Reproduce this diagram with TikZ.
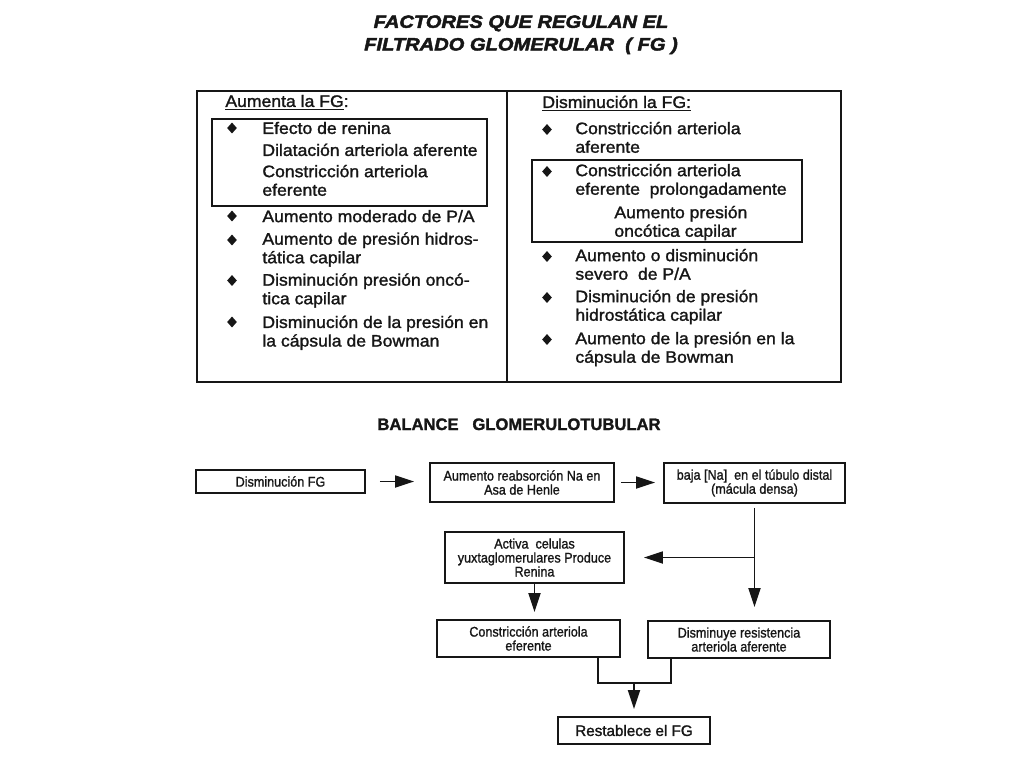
\documentclass[tikz,border=0pt]{standalone}
\usepackage{fontspec}
\usepackage{tikz}
\usetikzlibrary{arrows.meta,shapes.geometric}
\setmainfont{Liberation Sans}
\newfontfamily\tabfont[FakeStretch=1.06,FakeBold=1.5]{Liberation Sans}
\newfontfamily\headfont[FakeStretch=1.13,FakeBold=2.5]{Liberation Sans}
\newfontfamily\flowfont[FakeStretch=0.9,FakeBold=1.2]{Liberation Sans}
\newfontfamily\lastfont[FakeBold=1.5]{Liberation Sans}
\definecolor{Ink}{HTML}{161616}

\tikzset{
  tabline/.style={draw=Ink,line width=0.9pt},
  tabtext/.style={anchor=north west,inner sep=0pt,align=left,text=Ink,
    font=\tabfont\fontsize{8.3}{9.3}\selectfont,execute at begin node={\rule{0pt}{6.5pt}}},
  bullet/.style={diamond,fill=Ink,inner sep=0pt,minimum width=5pt,minimum height=5.6pt},
  flowbox/.style={draw=Ink,line width=0.9pt,inner sep=0pt,align=center,text=Ink,font=\flowfont\fontsize{7}{7}\selectfont},
  flowarrow/.style={draw=Ink,line width=0.9pt,-{Triangle[length=9.5pt,width=6pt]}}
}

\begin{document}
\begin{tikzpicture}[x=0.5pt,y=-0.5pt]
  \useasboundingbox (0,0) rectangle (1024,768);
  \fill[white] (0,0) rectangle (1024,768);

  % titles
  \node[anchor=north,inner sep=0pt,align=center,text=Ink,font=\headfont\bfseries\itshape\fontsize{8.9}{11.3}\selectfont] (titulo) at (521,15)
    {FACTORES QUE REGULAN EL\\FILTRADO GLOMERULAR\ \ ( FG )};
  \node[anchor=north,inner sep=0pt,text=Ink,font=\lastfont\bfseries\fontsize{8.3}{10}\selectfont] (balance) at (519,418)
    {BALANCE\ \ \ GLOMERULOTUBULAR};

  % table
  \draw[tabline] (197,91) rectangle (841,382);
  \draw[tabline] (507,91) -- (507,382);
  \draw[tabline] (212,119) rectangle (487,206);
  \draw[tabline] (532,160) rectangle (802,242);

  \node[tabtext] (aumHead) at (225,93.5) {\underline{Aumenta la FG}:};
  \node[bullet] (aumB1) at (232,128) {};
  \node[bullet] (aumB4) at (232,216) {};
  \node[bullet] (aumB5) at (232,240) {};
  \node[bullet] (aumB6) at (232,280.5) {};
  \node[bullet] (aumB7) at (232,322) {};
  \node[tabtext] (aum1) at (262,120.5) {Efecto de renina};
  \node[tabtext] (aum2) at (262,142.5) {Dilatación arteriola aferente};
  \node[tabtext] (aum3) at (262,164.5) {Constricción arteriola\\eferente};
  \node[tabtext] (aum4) at (262,208.7) {Aumento moderado de P/A};
  \node[tabtext] (aum5) at (262,232) {Aumento de presión hidros-\\tática capilar};
  \node[tabtext] (aum6) at (262,273) {Disminución presión oncó-\\tica capilar};
  \node[tabtext] (aum7) at (262,315.3) {Disminución de la presión en\\la cápsula de Bowman};

  \node[tabtext] (disHead) at (542,94.5) {\underline{Disminución la FG:}};
  \node[bullet] (disB1) at (547,129.5) {};
  \node[bullet] (disB2) at (547,171.5) {};
  \node[bullet] (disB3) at (547,256.5) {};
  \node[bullet] (disB4) at (547,297.5) {};
  \node[bullet] (disB5) at (547,339.5) {};
  \node[tabtext] (dis1) at (575,121.5) {Constricción arteriola\\aferente};
  \node[tabtext] (dis2) at (575,163.5) {Constricción arteriola\\eferente\ \ prolongadamente};
  \node[tabtext] (dis2b) at (614,205.5) {Aumento presión\\oncótica capilar};
  \node[tabtext] (dis3) at (575,248.5) {Aumento o disminución\\severo\ \ de P/A};
  \node[tabtext] (dis4) at (575,289.5) {Disminución de presión\\hidrostática capilar};
  \node[tabtext] (dis5) at (575,331.5) {Aumento de la presión en la\\cápsula de Bowman};

  % balance glomerulotubular
  \node[flowbox,minimum width=84.5pt,minimum height=11.5pt] (fgBaja) at (280.5,481.5) {Disminución FG};
  \node[flowbox,minimum width=92pt,minimum height=19.5pt] (reabs) at (522,482.5) {Aumento reabsorción Na en\\Asa de Henle};
  \node[flowbox,minimum width=90.5pt,minimum height=20pt] (sodio) at (754.5,483) {baja [Na]\ \ en el túbulo distal\\(mácula densa)};
  \node[flowbox,minimum width=89.5pt,minimum height=25.5pt] (renina) at (534.5,557.5) {Activa\ \ celulas\\yuxtaglomerulares Produce\\Renina};
  \node[flowbox,minimum width=91.5pt,minimum height=18.5pt] (eferente) at (528.5,638.5) {Constricción arteriola\\eferente};
  \node[flowbox,minimum width=91pt,minimum height=18.5pt] (aferente) at (739,639.5) {Disminuye resistencia\\arteriola aferente};
  \node[flowbox,minimum width=76pt,minimum height=13.5pt,font=\lastfont\fontsize{7.6}{9}\selectfont] (restab) at (634,730.5) {Restablece el FG};

  \draw[flowarrow,shorten <=7pt,shorten >=7.5pt] (fgBaja.east) -- (fgBaja.east -| reabs.west);
  \draw[flowarrow,shorten <=3pt,shorten >=4pt] (reabs.east) -- (reabs.east -| sodio.west);
  \draw[flowarrow,shorten <=2pt,shorten >=6.5pt] (sodio.south) -- (sodio.south |- aferente.north);
  \coordinate (split) at (sodio.south |- renina.east);
  \draw[flowarrow,shorten >=9.5pt] (split) -- (renina.east);
  \draw[flowarrow,shorten >=3.5pt] (renina.south) -- (renina.south |- eferente.north);
  \coordinate (dropL) at ([xshift=-11.5pt]eferente.south east);
  \coordinate (dropR) at ([xshift=12pt]aferente.south west);
  \coordinate (join) at (634,683);
  \draw[tabline] (dropL) -- (dropL |- join) -- (dropR |- join) -- (dropR);
  \draw[flowarrow,shorten >=3.5pt] (join) -- (restab.north);
\end{tikzpicture}
\end{document}
